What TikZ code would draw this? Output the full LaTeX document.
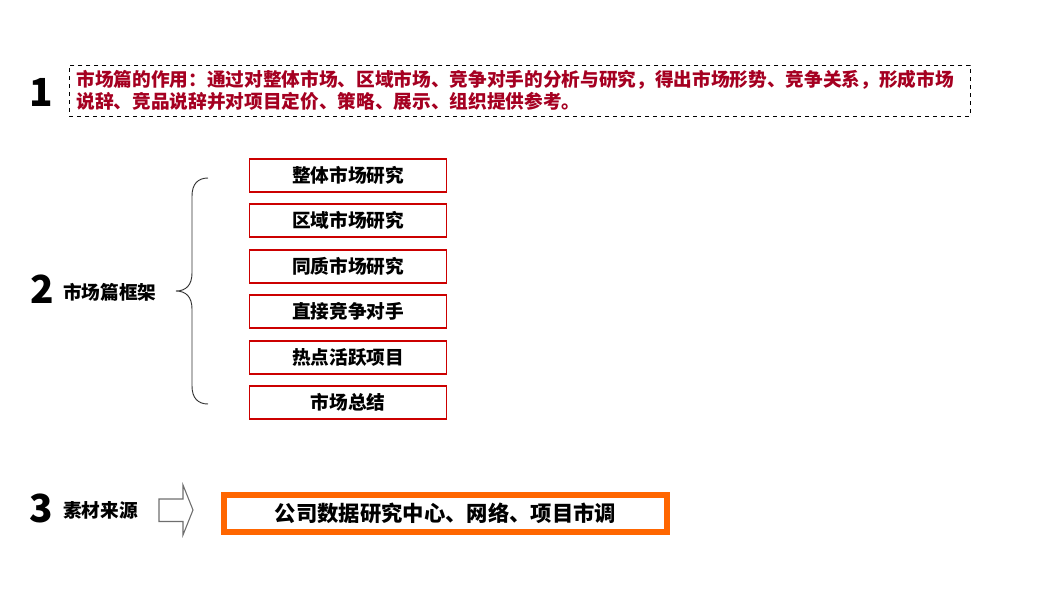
\documentclass[tikz,border=0pt]{standalone}
\usepackage{fontspec}
\setmainfont{Noto Sans CJK SC}
\definecolor{descred}{RGB}{165,0,33}
\definecolor{boxred}{RGB}{204,0,0}
\definecolor{orangeb}{RGB}{255,102,0}
\definecolor{arrgray}{RGB}{110,110,110}
\begin{document}
\begin{tikzpicture}[x=0.75pt,y=-0.75pt,
  num/.style={font=\fontsize{29}{29}\selectfont\bfseries, inner sep=0pt},
  lbl/.style={font=\fontsize{14}{16}\selectfont\bfseries, inner sep=0pt, anchor=west},
  fbox/.style={draw=boxred, line width=0.8pt, minimum width=147.75pt, minimum height=24.75pt,
    inner sep=0pt, font=\fontsize{14}{16}\selectfont\bfseries},
  desc/.style={draw=black, dashed, line width=0.6pt, anchor=west, minimum width=675.75pt,
    minimum height=38.25pt, inner xsep=5.25pt, inner ysep=0pt, text width=665.25pt, align=left,
    text=descred, font=\fontsize{14}{16.5}\selectfont\bfseries},
  src/.style={draw=orangeb, line width=4.5pt, minimum width=332.25pt, minimum height=27.75pt,
    inner sep=0pt, font=\fontsize{16}{18}\selectfont\bfseries},
  brace/.style={draw=black!80, line width=0.7pt},
  blockarrow/.style={draw=arrgray, line width=0.8pt, fill=white}
]
\useasboundingbox (0,0) rectangle (1040,604);
% section 1
\node[num] (n1) at (41,92) {1};
\node[desc] (d1) at (69,90.5) {市场篇的作用：通过对整体市场、区域市场、竞争对手的分析与研究，得出市场形势、竞争关系，形成市场\\说辞、竞品说辞并对项目定价、策略、展示、组织提供参考。};
% section 2
\node[num] (n2) at (42,289) {2};
\node[lbl] (l2) at (63,292) {市场篇框架};
\draw[brace] (208,178) .. controls (198,178) and (192,184) .. (192,196) -- (192,273)
  .. controls (192,285) and (186,291) .. (176,291)
  .. controls (186,291) and (192,297) .. (192,309) -- (192,386)
  .. controls (192,398) and (198,404) .. (208,404);
\node[fbox] (b1) at (348,175.5) {整体市场研究};
\node[fbox] (b2) at (348,220.5) {区域市场研究};
\node[fbox] (b3) at (348,266.5) {同质市场研究};
\node[fbox] (b4) at (348,311.5) {直接竞争对手};
\node[fbox] (b5) at (348,357.5) {热点活跃项目};
\node[fbox] (b6) at (348,402.5) {市场总结};
% section 3
\node[num] (n3) at (41,508) {3};
\node[lbl] (l3) at (63,510) {素材来源};
\draw[blockarrow] (159,499) -- (183,499) -- (183,485) -- (193,510) -- (183,535)
  -- (183,521.5) -- (159,521.5) -- cycle;
\node[src] (s3) at (445.5,513.5) {公司数据研究中心、网络、项目市调};
\end{tikzpicture}
\end{document}
